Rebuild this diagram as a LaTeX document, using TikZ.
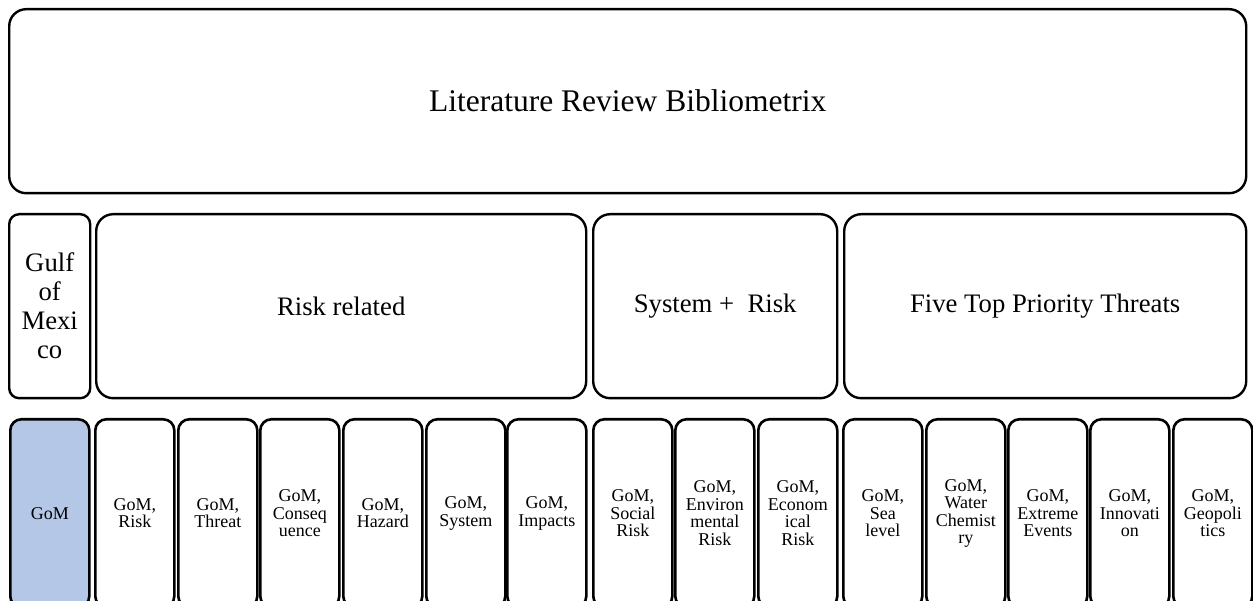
\documentclass[tikz,border=0pt]{standalone}
\usepackage{fontspec}
\setmainfont{Liberation Serif}
\definecolor{gomblue}{HTML}{B4C7E7}
\begin{document}
\begin{tikzpicture}[x=1pt,y=-1pt,
  bigbox/.style={draw, line width=2.4pt, rounded corners=17pt, inner sep=0pt,
    anchor=north west, minimum height=184pt, align=center},
  topicbox/.style={draw, line width=2.6pt, rounded corners=11pt, inner sep=0pt,
    anchor=north west, minimum width=79pt, minimum height=188pt, align=center,
    font=\fontsize{18}{17.5}\selectfont}]
\useasboundingbox (0,0) rectangle (1253,601);
\clip (0,0) rectangle (1253,601);
% top level
\node[bigbox, minimum width=1237pt, font=\fontsize{31.5}{36}\selectfont] (review) at (8,8) {Literature Review Bibliometrix};
% groups
\node[bigbox, minimum width=81pt, rounded corners=10pt, font=\fontsize{26.7}{29}\selectfont] (gulf) at (8,213) {Gulf\\of\\Mexi\\co};
\node[bigbox, minimum width=490pt, font=\fontsize{26.7}{29}\selectfont] (riskrel) at (95,213) {Risk related};
\node[bigbox, minimum width=244pt, font=\fontsize{26.7}{29}\selectfont] (sysrisk) at (592,213) {System +\ \ Risk};
\node[bigbox, minimum width=402pt, font=\fontsize{26.7}{29}\selectfont] (fivetop) at (843,213) {Five Top Priority Threats};
% search terms
\node[topicbox, fill=gomblue] (t1) at (9,418) {GoM};
\foreach \x/\txt [count=\i from 2] in {
  94/{GoM,\\Risk}, 177/{GoM,\\Threat}, 259/{GoM,\\Conseq\\uence},
  342/{GoM,\\Hazard}, 425/{GoM,\\System}, 506/{GoM,\\Impacts},
  592/{GoM,\\Social\\Risk}, 674/{GoM,\\Environ\\mental\\Risk}, 757/{GoM,\\Econom\\ical\\Risk},
  842/{GoM,\\Sea\\level}, 925/{GoM,\\Water\\Chemist\\ry}, 1007/{GoM,\\Extreme\\Events},
  1089/{GoM,\\Innovati\\on}, 1172/{GoM,\\Geopoli\\tics}}
  \node[topicbox] (t\i) at (\x,418) {\txt};
\end{tikzpicture}
\end{document}
